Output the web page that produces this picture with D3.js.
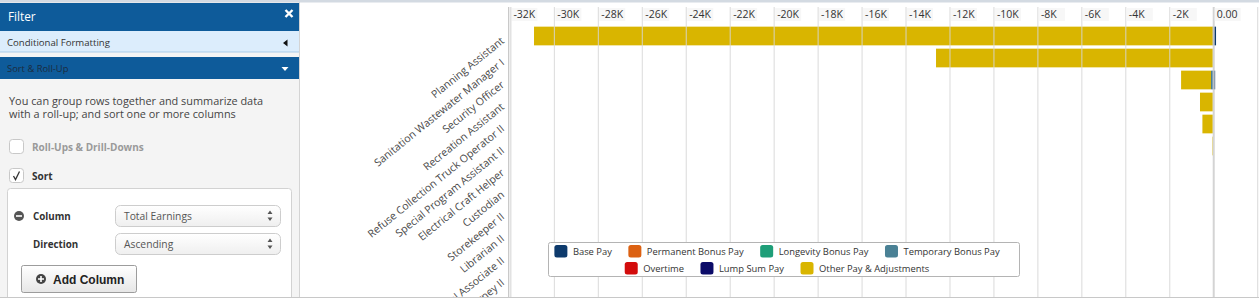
<!DOCTYPE html>
<html>
<head>
<meta charset="utf-8">
<script src="https://cdn.jsdelivr.net/npm/d3@7"></script>
<style>
body { margin:0; background:#fff; font-family:"Open Sans", sans-serif; }
svg { display:block; }
.tickLabel { font-size:10.5px; fill:#333; }
.jobLabel { font-size:10.6px; fill:#4a4a4a; }
.legendText { font-size:9.4px; fill:#333; }
</style>
</head>
<body>
<svg id="page" width="1259" height="307"></svg>
<script>

// job titles, sorted by total earnings (ascending)
var jobTitles = ["Planning Assistant", "Sanitation Wastewater Manager I", "Security Officer",
	"Recreation Assistant", "Refuse Collection Truck Operator II", "Special Program Assistant II",
	"Electrical Craft Helper", "Custodian", "Storekeeper II", "Librarian II",
	"Clerical Associate II", "Deputy City Attorney II"];

// pay components per job title
var basePay          = [150, 0, 110, 0, 0, 0, 0, 0, 0, 0, 0, 0];
var permanentBonus   = [0, 0, 0, 0, 0, 0, 0, 0, 0, 0, 0, 0];
var longevityBonus   = [0, 0, 0, 0, 0, 0, 0, 0, 0, 0, 0, 0];
var temporaryBonus   = [0, 0, -80, 0, 0, 0, 0, 0, 0, 0, 0, 0];
var overtime         = [0, 0, 0, 0, 0, 0, 0, 0, 0, 0, 0, 0];
var lumpSum          = [0, 0, 0, 0, 0, 0, 0, 0, 0, 0, 0, 0];
var otherPay         = [-30880, -12590, -1360, -580, -470, -20, 0, 0, 0, 0, 0, 0];

var seriesNames  = ["Base Pay", "Permanent Bonus Pay", "Longevity Bonus Pay", "Temporary Bonus Pay",
	"Overtime", "Lump Sum Pay", "Other Pay & Adjustments"];
var seriesValues = [basePay, permanentBonus, longevityBonus, temporaryBonus, overtime, lumpSum, otherPay];
var seriesColors = ["#0d3a6c", "#dc6112", "#1e9e78", "#4a8195", "#d30c0c", "#0b0b68", "#d9b500"];

var xTickValues = [-32000, -30000, -28000, -26000, -24000, -22000, -20000, -18000, -16000,
	-14000, -12000, -10000, -8000, -6000, -4000, -2000, 0, 2000];
var xTickLabels = ["-32K", "-30K", "-28K", "-26K", "-24K", "-22K", "-20K", "-18K", "-16K",
	"-14K", "-12K", "-10K", "-8K", "-6K", "-4K", "-2K", "0.00", ""];

var legendRows = [4, 3]; // items per legend row

var svg = d3.select("#page");

// ---------- filter panel ----------
var defs = svg.append("defs");
var g1 = defs.append("linearGradient").attr("id", "selGrad").attr("x1", 0).attr("y1", 0).attr("x2", 0).attr("y2", 1);
g1.append("stop").attr("offset", "0%").attr("stop-color", "#ffffff");
g1.append("stop").attr("offset", "100%").attr("stop-color", "#efefef");
var g2 = defs.append("linearGradient").attr("id", "btnGrad").attr("x1", 0).attr("y1", 0).attr("x2", 0).attr("y2", 1);
g2.append("stop").attr("offset", "0%").attr("stop-color", "#ffffff");
g2.append("stop").attr("offset", "100%").attr("stop-color", "#e6e6e6");

var panel = svg.append("g");
panel.append("rect").attr("x", 0).attr("y", 0).attr("width", 299).attr("height", 297).attr("fill", "#f4f4f4");

// header
panel.append("rect").attr("x", 0).attr("y", 3).attr("width", 299).attr("height", 28).attr("fill", "#0e5b9a");
panel.append("text").attr("x", 8).attr("y", 21).attr("fill", "#fff").style("font-size", "11.8px").text("Filter");
panel.append("path").attr("d", "M285.5,10 L292.5,17 M292.5,10 L285.5,17")
	.attr("stroke", "#fff").attr("stroke-width", 2.4);

// conditional formatting row
panel.append("rect").attr("x", 0).attr("y", 31).attr("width", 299).attr("height", 21).attr("fill", "#dcedfc");
panel.append("line").attr("x1", 0).attr("x2", 299).attr("y1", 52).attr("y2", 52).attr("stroke", "#a9cbe9");
panel.append("text").attr("x", 7).attr("y", 45.5).attr("fill", "#333").style("font-size", "9.6px").text("Conditional Formatting");
panel.append("path").attr("d", "M283,43 L287.5,39.5 L287.5,46.5 Z").attr("fill", "#111");

// sort & roll-up row
panel.append("rect").attr("x", 0).attr("y", 57).attr("width", 299).attr("height", 22).attr("fill", "#0e5b9a");
panel.append("text").attr("x", 7).attr("y", 71.5).attr("fill", "#1b2b40").style("font-size", "9.4px").text("Sort & Roll-Up");
panel.append("path").attr("d", "M281.5,67 L288.5,67 L285,71 Z").attr("fill", "#fff");

// description
panel.append("text").attr("x", 9).attr("y", 104.5).attr("fill", "#444").style("font-size", "10.9px")
	.text("You can group rows together and summarize data");
panel.append("text").attr("x", 9).attr("y", 118).attr("fill", "#444").style("font-size", "10.9px")
	.text("with a roll-up; and sort one or more columns");

// checkboxes
panel.append("rect").attr("x", 9.5).attr("y", 139.5).attr("width", 14).attr("height", 14).attr("rx", 3)
	.attr("fill", "#fff").attr("stroke", "#c8c8c8");
panel.append("text").attr("x", 32).attr("y", 151).attr("fill", "#9a9a9a").style("font-size", "10px")
	.style("font-weight", "bold").text("Roll-Ups & Drill-Downs");
panel.append("rect").attr("x", 9.5).attr("y", 168.5).attr("width", 14).attr("height", 14).attr("rx", 3)
	.attr("fill", "#fff").attr("stroke", "#c8c8c8");
panel.append("path").attr("d", "M13.5,176 L15.5,179.5 L19.5,171.5").attr("fill", "none")
	.attr("stroke", "#333").attr("stroke-width", 1.3);
panel.append("text").attr("x", 32).attr("y", 180).attr("fill", "#333").style("font-size", "10px")
	.style("font-weight", "bold").text("Sort");

// sort box
panel.append("rect").attr("x", 7.5).attr("y", 188.5).attr("width", 284).attr("height", 130).attr("rx", 3)
	.attr("fill", "#fff").attr("stroke", "#d2d2d2");
panel.append("circle").attr("cx", 19).attr("cy", 216).attr("r", 5).attr("fill", "#555");
panel.append("line").attr("x1", 16).attr("x2", 22).attr("y1", 216).attr("y2", 216).attr("stroke", "#fff").attr("stroke-width", 1.6);

var selects = [{label: "Column", value: "Total Earnings", y: 205.5}, {label: "Direction", value: "Ascending", y: 233.5}];
selects.forEach(function(s) {
	panel.append("text").attr("x", 33).attr("y", s.y + 14).attr("fill", "#333").style("font-size", "9.8px")
		.style("font-weight", "bold").text(s.label);
	panel.append("rect").attr("x", 115.5).attr("y", s.y).attr("width", 165).attr("height", 21).attr("rx", 5)
		.attr("fill", "url(#selGrad)").attr("stroke", "#cdcdcd");
	panel.append("text").attr("x", 124).attr("y", s.y + 14).attr("fill", "#555").style("font-size", "10.3px").text(s.value);
	panel.append("path").attr("d", "M267.5," + (s.y + 8.5) + " L272.5," + (s.y + 8.5) + " L270," + (s.y + 5) + " Z" +
		" M267.5," + (s.y + 12) + " L272.5," + (s.y + 12) + " L270," + (s.y + 15.5) + " Z").attr("fill", "#555");
});

// add column button
panel.append("rect").attr("x", 21.5).attr("y", 265.5).attr("width", 115).attr("height", 27).attr("rx", 2)
	.attr("fill", "url(#btnGrad)").attr("stroke", "#9c9c9c");
panel.append("circle").attr("cx", 41).attr("cy", 279).attr("r", 5).attr("fill", "#444");
panel.append("path").attr("d", "M38,279 L44,279 M41,276 L41,282").attr("stroke", "#fff").attr("stroke-width", 1.6);
panel.append("text").attr("x", 53).attr("y", 283.5).attr("fill", "#222")
	.style("font-family", "'Liberation Sans', Arial, sans-serif").style("font-size", "12px").style("font-weight", "bold")
	.text("Add Column");

panel.append("line").attr("x1", 299.5).attr("x2", 299.5).attr("y1", 0).attr("y2", 297).attr("stroke", "#d4d4d4");

// ---------- chart ----------
var x = d3.scaleLinear().domain([-32000, 2000]).range([509.4, 1256.7]);
var y = d3.scaleBand().domain(jobTitles).range([25, 25 + 22 * jobTitles.length])
	.paddingInner(0.15).paddingOuter(0.075);

defs.append("clipPath").attr("id", "chartClip").append("rect")
	.attr("x", 300).attr("y", 3).attr("width", 959).attr("height", 294);

var chart = svg.append("g").attr("clip-path", "url(#chartClip)");

// stack the pay components
var rows = jobTitles.map(function(t, i) {
	var r = {title: t};
	seriesNames.forEach(function(n, k) { r[n] = seriesValues[k][i]; });
	return r;
});
var stacked = d3.stack().keys(seriesNames).offset(d3.stackOffsetDiverging)(rows);

stacked.forEach(function(layer, k) {
	chart.append("g").attr("fill", seriesColors[k])
		.selectAll("rect").data(layer).enter().append("rect")
		.attr("x", function(d) { return x(Math.min(d[0], d[1])); })
		.attr("width", function(d) { return Math.abs(x(d[1]) - x(d[0])); })
		.attr("y", function(d) { return y(d.data.title); })
		.attr("height", y.bandwidth());
});

// grid lines (drawn above the bars) and tick labels
var axisG = chart.append("g").call(d3.axisTop(x).tickValues(xTickValues).tickSize(0)
	.tickFormat(function(d, i) { return xTickLabels[i]; }));
axisG.select(".domain").remove();
axisG.selectAll(".tick line").remove();
axisG.selectAll(".tick").each(function(d, i) {
	var t = d3.select(this);
	t.insert("line", "text").attr("x1", 0.5).attr("x2", 0.5).attr("y1", 7).attr("y2", 297)
		.attr("stroke", d === 0 ? "#cfcfcf" : "#d6d6d6").attr("stroke-width", d === 0 ? 2 : 1).attr("opacity", 0.9);
	if (xTickLabels[i]) {
		t.insert("rect", "text").attr("x", 1.5).attr("y", 8).attr("width", 26).attr("height", 13).attr("fill", "#f7f7f7");
	}
});
axisG.selectAll(".tick text").attr("class", "tickLabel").attr("text-anchor", "start")
	.attr("x", 3.5).attr("y", 18).attr("dy", null)
	.style("font-family", "'Open Sans', sans-serif").style("font-size", "10.5px").attr("fill", "#333");

// left axis line
chart.append("line").attr("x1", 508.5).attr("x2", 508.5).attr("y1", 7).attr("y2", 297).attr("stroke", "#c9c9c9");
chart.append("line").attr("x1", 510.5).attr("x2", 510.5).attr("y1", 7).attr("y2", 297).attr("stroke", "#e2e2e2").attr("stroke-width", 2);

// rotated job title labels
chart.append("g").selectAll("text").data(jobTitles).enter().append("text")
	.attr("class", "jobLabel")
	.attr("text-anchor", "end")
	.attr("transform", function(d) { return "translate(505," + (y(d) + y.bandwidth() / 2 + 6) + ") rotate(-39)"; })
	.text(function(d) { return d; });

// legend
var legend = svg.append("g");
legend.append("rect").attr("x", 548.5).attr("y", 242.5).attr("width", 471).attr("height", 34).attr("rx", 2)
	.attr("fill", "#fff").attr("stroke", "#b4b4b4");
var idx = 0;
legendRows.forEach(function(count, r) {
	var rowG = legend.append("g");
	var cx = 0;
	for (var i = 0; i < count; i++, idx++) {
		var item = rowG.append("g").attr("transform", "translate(" + cx + ",0)");
		item.append("rect").attr("x", 0).attr("y", -6.3).attr("width", 13).attr("height", 12.6).attr("rx", 2.5)
			.attr("fill", seriesColors[idx]);
		var txt = item.append("text").attr("class", "legendText").attr("x", 18.5).attr("y", 3.4).text(seriesNames[idx]);
		cx += 18.5 + txt.node().getComputedTextLength() + (i < count - 1 ? 16.5 : 0);
	}
	rowG.attr("transform", "translate(" + (777 - cx / 2) + "," + (r === 0 ? 251.3 : 268.3) + ")");
});

// frame lines
svg.append("rect").attr("x", 0).attr("y", 0).attr("width", 1259).attr("height", 2.5).attr("fill", "#d3dae2");
svg.append("line").attr("x1", 0).attr("x2", 1259).attr("y1", 297.5).attr("y2", 297.5).attr("stroke", "#c8c8c8");
svg.append("rect").attr("x", 0).attr("y", 298).attr("width", 1259).attr("height", 9).attr("fill", "#fff");

</script>
</body>
</html>
